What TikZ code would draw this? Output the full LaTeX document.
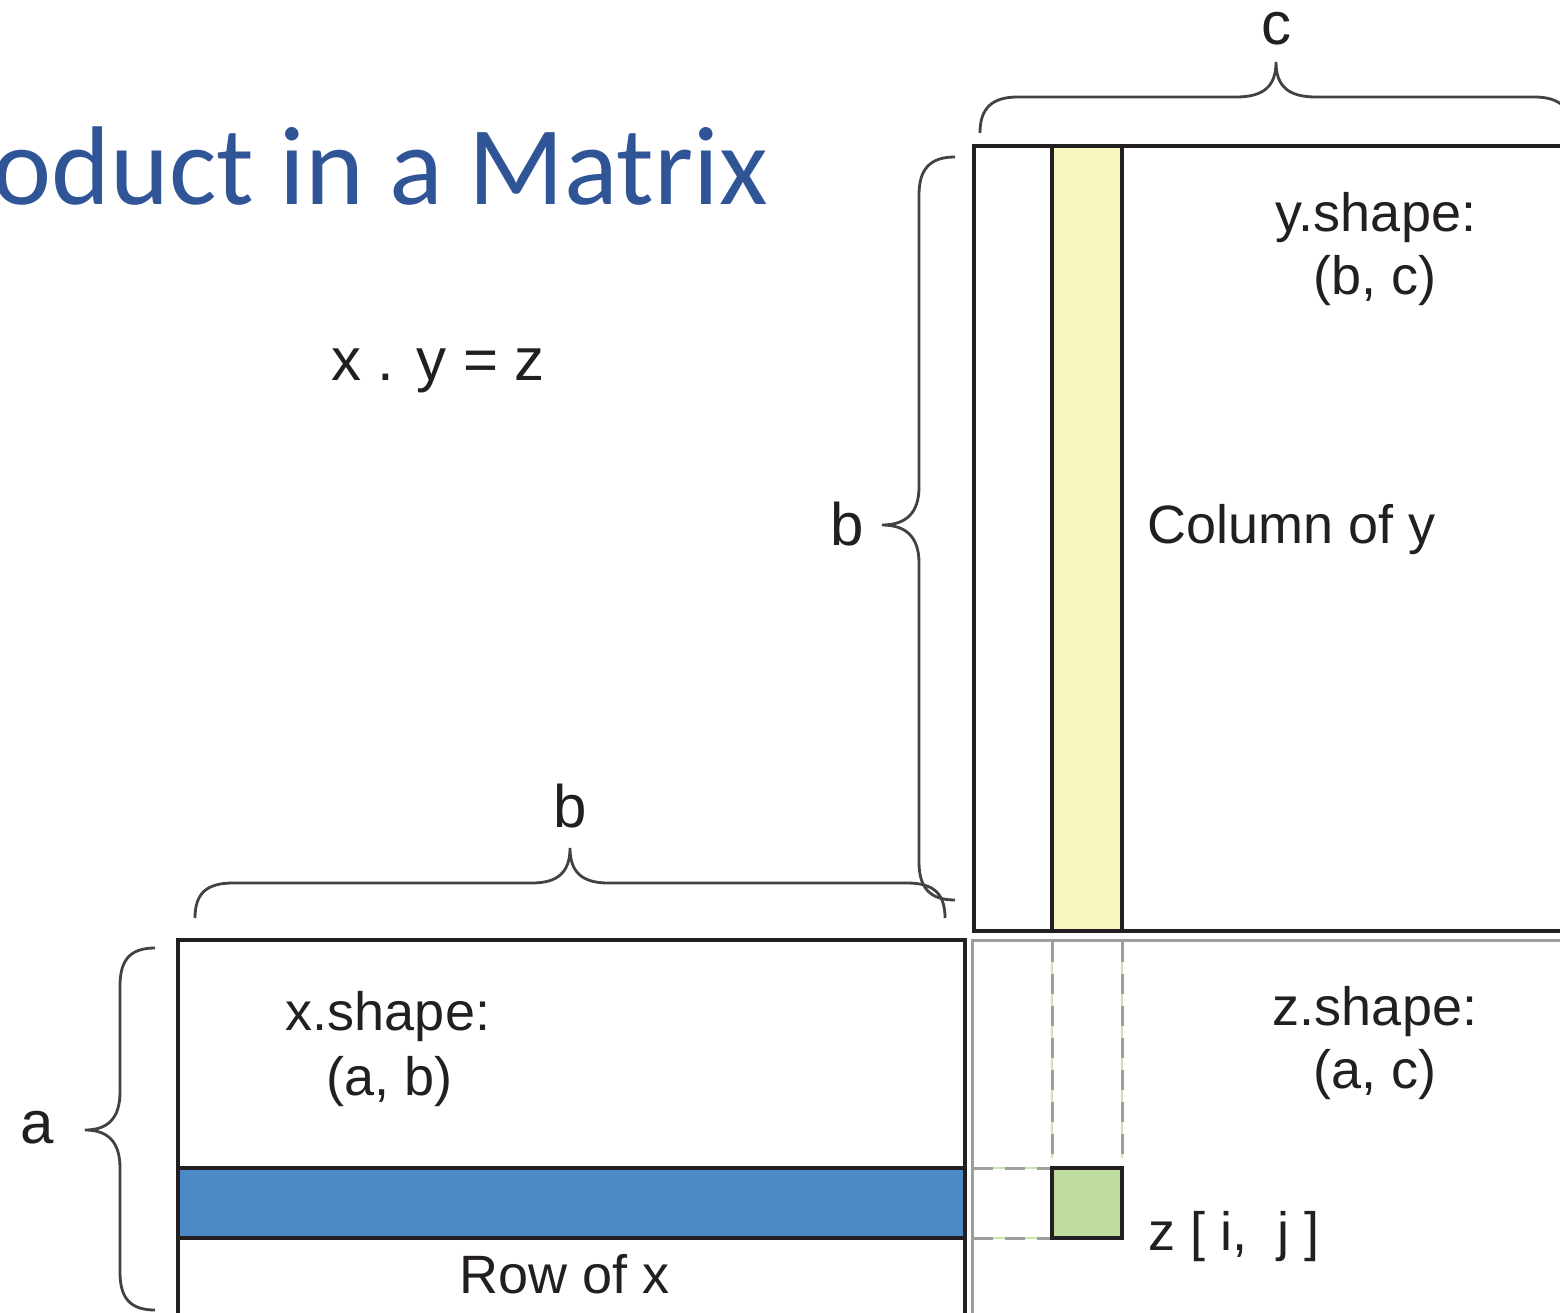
\documentclass[tikz,border=0pt]{standalone}
\usepackage{fontspec}
\setmainfont{Liberation Sans}
\newfontfamily\titlefont{Carlito}
\definecolor{ink}{HTML}{231F20}
\definecolor{ttl}{HTML}{2F5597}
\definecolor{ylw}{HTML}{F7F6BE}
\definecolor{blu}{HTML}{4E89C7}
\definecolor{grn}{HTML}{BEDC9D}
\definecolor{gry}{HTML}{9E9E9E}
\definecolor{lgrn}{HTML}{C8E6A8}
\tikzset{
  box/.style={draw=ink, line width=3.5pt},
  zbox/.style={draw=gry, line width=3pt},
  brace/.style={draw=ink!85, line width=2.8pt},
  guide/.style={draw=gry, line width=3pt, dash pattern=on 20pt off 12pt},
  guideg/.style={draw=lgrn, line width=1.2pt},
  lbl/.style={text=ink, inner sep=0pt, font=\fontsize{54}{64}\selectfont},
  dim/.style={text=ink, inner sep=0pt, font=\fontsize{60}{70}\selectfont}
}
\begin{document}
\begin{tikzpicture}[x=1pt, y=-1pt]
\useasboundingbox (0,0) rectangle (1560,1313);
\clip (0,0) rectangle (1560,1313);
% title
\node[inner sep=0pt, anchor=base east, text=ttl, font=\titlefont\fontsize{112}{130}\selectfont] (title) at (768,205) {oduct in a Matrix};
% equation
\node[dim, anchor=base] (eq) at (438,380) {x . y = z};
% fills
\fill[blu] (178,1168) rectangle (965,1238);
\fill[ylw] (1052,146) rectangle (1122,931);
\fill[grn] (1052,1168) rectangle (1122,1238);
% guides
\coordinate (g1t) at (1052,942); \coordinate (g1b) at (1052,1158);
\coordinate (g2t) at (1122,942); \coordinate (g2b) at (1122,1158);
\coordinate (h1l) at (973,1168); \coordinate (h1r) at (1052,1168);
\coordinate (h2l) at (973,1238); \coordinate (h2r) at (1052,1238);
\foreach \a/\b in {g1t/g1b,g2t/g2b,h1l/h1r,h2l/h2r}{
  \draw[guideg] (\a) -- (\b);
  \draw[guide] (\a) -- (\b);
}
% z matrix
\draw[zbox] (972,1330) -- (972,940) -- (1580,940);
% x matrix
\draw[box] (178,1330) -- (178,940) -- (965,940) -- (965,1330);
\draw[box] (178,1168) -- (965,1168);
\draw[box] (178,1238) -- (965,1238);
% y matrix
\draw[box] (1580,146) -- (974,146) -- (974,931) -- (1580,931);
\draw[box] (1052,146) -- (1052,931);
\draw[box] (1122,146) -- (1122,931);
% z element
\draw[box] (1052,1168) rectangle (1122,1238);
% braces
\draw[brace] (980,133) .. controls (980,108) and (992,97) .. (1018,97) -- (1236,97)
  .. controls (1264,97) and (1276,86) .. (1276,62)
  .. controls (1276,86) and (1288,97) .. (1316,97) -- (1534,97)
  .. controls (1560,97) and (1572,108) .. (1572,133);
\draw[brace] (195,918) .. controls (195,893) and (207,883) .. (233,883) -- (532,883)
  .. controls (558,883) and (570,872) .. (570,848)
  .. controls (570,872) and (582,883) .. (608,883) -- (907,883)
  .. controls (933,883) and (945,893) .. (945,918);
\draw[brace] (955,157) .. controls (930,157) and (919,169) .. (919,195) -- (919,487)
  .. controls (919,513) and (906,525) .. (882,525)
  .. controls (906,525) and (919,537) .. (919,563) -- (919,862)
  .. controls (919,888) and (930,900) .. (955,900);
\draw[brace] (155,948) .. controls (130,948) and (120,960) .. (120,986) -- (120,1092)
  .. controls (120,1118) and (108,1130) .. (85,1130)
  .. controls (108,1130) and (120,1142) .. (120,1168) -- (120,1272)
  .. controls (120,1298) and (130,1310) .. (155,1310);
% dimension labels
\node[dim, anchor=base] (lc) at (1276,45) {c};
\node[dim, anchor=base] (lbt) at (570,827) {b};
\node[dim, anchor=base] (lbl) at (847,545) {b};
\node[dim, anchor=base] (la) at (37,1143) {a};
% matrix labels
\node[lbl, anchor=base] (ys1) at (1376,232) {y.shape:};
\node[lbl, anchor=base] (ys2) at (1375,295) {(b, c)};
\node[lbl, anchor=base west] (coly) at (1147,543) {Column of y};
\node[lbl, anchor=base] (xs1) at (388,1030) {x.shape:};
\node[lbl, anchor=base] (xs2) at (390,1095) {(a, b)};
\node[lbl, anchor=base] (zs1) at (1375,1025) {z.shape:};
\node[lbl, anchor=base] (zs2) at (1375,1088) {(a, c)};
\node[lbl, anchor=base] (rowx) at (565,1293) {Row of x};
\node[lbl, anchor=base west] (zij) at (1148,1250) {z [ i,\ \ j ]};
\end{tikzpicture}
\end{document}
